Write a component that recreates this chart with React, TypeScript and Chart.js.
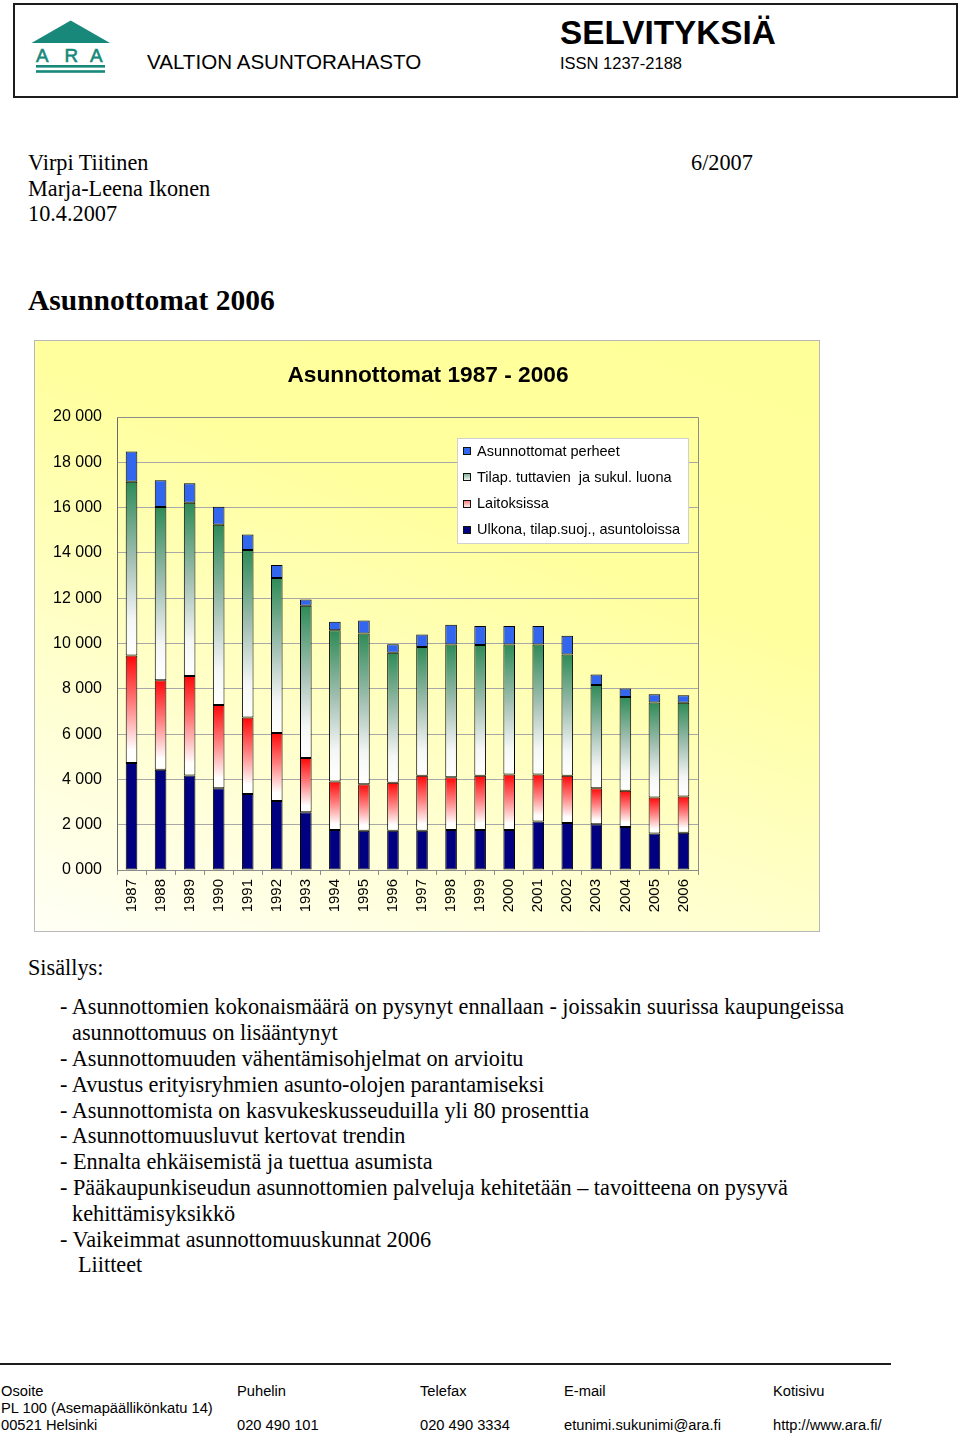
import React, { useEffect, useRef } from "react";
import { Chart, registerables } from "chart.js";

Chart.register(...registerables);

// ---------- DATA ----------
const years = ["1987", "1988", "1989", "1990", "1991", "1992", "1993", "1994", "1995", "1996", "1997", "1998", "1999", "2000", "2001", "2002", "2003", "2004", "2005", "2006"];
const ulkona = [4720, 4430, 4170, 3610, 3360, 3050, 2550, 1770, 1730, 1730, 1730, 1770, 1770, 1770, 2140, 2070, 2020, 1900, 1610, 1650];
const laitoksissa = [4750, 3950, 4400, 3680, 3370, 3000, 2390, 2140, 2060, 2120, 2430, 2330, 2390, 2450, 2080, 2090, 1590, 1600, 1590, 1600];
const tilap = [7670, 7650, 7640, 7950, 7400, 6840, 6730, 6670, 6650, 5740, 5680, 5860, 5770, 5740, 5740, 5350, 4560, 4140, 4200, 4130];
const perheet = [1340, 1180, 870, 800, 680, 580, 270, 380, 580, 380, 560, 870, 840, 810, 810, 830, 460, 370, 360, 330];
const seriesLabels = ["Ulkona, tilap.suoj., asuntoloissa", "Laitoksissa", "Tilap. tuttavien  ja sukul. luona", "Asunnottomat perheet"];
const yTickValues = [0, 2000, 4000, 6000, 8000, 10000, 12000, 14000, 16000, 18000, 20000];
const yTickLabels = ["0 000", "2 000", "4 000", "6 000", "8 000", "10 000", "12 000", "14 000", "16 000", "18 000", "20 000"];
const chartTitle = "Asunnottomat 1987 - 2006";

const SANS = '"Liberation Sans", Arial, Helvetica, sans-serif';
const SERIF = '"Liberation Serif", "Times New Roman", Times, serif';

type Kind = "navy" | "red" | "green" | "blue";
const kinds: Kind[] = ["navy", "red", "green", "blue"];
const seriesData = [ulkona, laitoksissa, tilap, perheet];

function applyStops(g: CanvasGradient, kind: Kind) {
  if (kind === "red") {
    g.addColorStop(0, "#ff0808");
    g.addColorStop(0.45, "#ff8080");
    g.addColorStop(0.88, "#ffffff");
    g.addColorStop(1, "#ffffff");
  } else if (kind === "green") {
    g.addColorStop(0, "#2e8b57");
    g.addColorStop(0.45, "#a3c0b3");
    g.addColorStop(0.8, "#f5f7f7");
    g.addColorStop(1, "#ffffff");
  }
}

function solid(kind: Kind) {
  if (kind === "navy") return "#000080";
  if (kind === "blue") return "#3366ee";
  if (kind === "red") return "#ff6060";
  return "#7fb59a";
}

function segFill(kind: Kind) {
  return (ctx: any) => {
    if (kind === "navy" || kind === "blue") return solid(kind);
    const chart = ctx.chart;
    if (!chart.chartArea || ctx.type !== "data") return solid(kind);
    const ys = chart.scales.y;
    const i = ctx.dataIndex;
    const d = ctx.datasetIndex;
    let base = 0;
    for (let k = 0; k < d; k++) base += seriesData[k][i];
    const top = ys.getPixelForValue(base + seriesData[d][i]);
    const bot = ys.getPixelForValue(base);
    const g = chart.ctx.createLinearGradient(0, top, 0, bot);
    applyStops(g, kind);
    return g;
  };
}

const frameAndLegend = {
  id: "frameAndLegend",
  afterDraw(chart: any) {
    const c: CanvasRenderingContext2D = chart.ctx;
    const a = chart.chartArea;
    c.save();
    // chart title, centred on the whole chart box
    c.fillStyle = "#000";
    c.font = `bold 22.7px ${SANS}`;
    c.textAlign = "center";
    c.textBaseline = "middle";
    c.fillText(chartTitle, chart.width / 2 + 1, 35);

    // plot frame (top/right)
    c.strokeStyle = "#8c8c8c";
    c.lineWidth = 1;
    c.beginPath();
    c.moveTo(a.left, a.top + 0.5);
    c.lineTo(a.right + 0.5, a.top + 0.5);
    c.lineTo(a.right + 0.5, a.bottom);
    c.stroke();

    // legend box
    const bx = a.right - 241;
    const by = a.top + 21;
    const bw = 232;
    const bh = 106;
    c.fillStyle = "#ffffff";
    c.fillRect(bx, by, bw, bh);
    c.strokeStyle = "#d0d0d0";
    c.strokeRect(bx + 0.5, by + 0.5, bw - 1, bh - 1);
    c.font = `14.5px ${SANS}`;
    c.textBaseline = "middle";
    c.textAlign = "left";
    const order = [3, 2, 1, 0];
    order.forEach((d, row) => {
      const cy = by + 13 + row * 26.3;
      const sx = bx + 6;
      const sy = Math.round(cy - 4);
      const kind = kinds[d];
      if (kind === "red" || kind === "green") {
        const g = c.createLinearGradient(0, sy, 0, sy + 8);
        if (kind === "red") {
          g.addColorStop(0, "#ff7070");
          g.addColorStop(1, "#ffffff");
        } else {
          g.addColorStop(0, "#6fa88a");
          g.addColorStop(1, "#ffffff");
        }
        c.fillStyle = g;
      } else {
        c.fillStyle = solid(kind);
      }
      c.fillRect(sx, sy, 8, 8);
      c.strokeStyle = "#111";
      c.strokeRect(sx + 0.5, sy + 0.5, 7, 7);
      c.fillStyle = "#000";
      c.fillText(seriesLabels[d], bx + 20, cy + 0.5);
    });
    c.restore();
  },
};

function BarChart() {
  const ref = useRef<HTMLCanvasElement | null>(null);
  useEffect(() => {
    if (!ref.current) return;
    const chart = new Chart(ref.current, {
      type: "bar",
      data: {
        labels: years,
        datasets: seriesData.map((arr, d) => ({
          label: seriesLabels[d],
          data: arr,
          backgroundColor: segFill(kinds[d]) as any,
          borderColor: "#000000",
          borderWidth: 1,
          borderSkipped: false,
          categoryPercentage: 1,
          barPercentage: 0.4,
        })),
      },
      options: {
        responsive: false,
        animation: false,
        devicePixelRatio: 1,
        layout: { padding: { left: 0, right: 121, top: 76, bottom: 0 } },
        font: { family: SANS },
        plugins: {
          legend: { display: false },
          tooltip: { enabled: false },
          title: { display: false },
        },
        scales: {
          x: {
            stacked: true,
            grid: { display: true, drawOnChartArea: false, drawTicks: true, tickLength: 5, color: "#8c8c8c", offset: true },
            border: { display: true, color: "#8c8c8c" },
            ticks: {
              color: "#000",
              font: { family: SANS, size: 15 },
              maxRotation: 90,
              minRotation: 90,
              padding: 4,
              autoSkip: false,
            },
            afterFit: (s: any) => {
              s.height = 61;
            },
          },
          y: {
            stacked: true,
            min: 0,
            max: 20000,
            grid: { color: "#a8a8a8", drawTicks: false },
            border: { display: true, color: "#6a6a6a" },
            ticks: {
              color: "#000",
              font: { family: SANS, size: 16 },
              padding: 15,
              callback: (v: any) => {
                const idx = yTickValues.indexOf(Number(v));
                return idx >= 0 ? yTickLabels[idx] : "";
              },
            },
            afterBuildTicks: (s: any) => {
              s.ticks = yTickValues.map((v) => ({ value: v }));
            },
            afterFit: (s: any) => {
              s.width = 82;
            },
          },
        },
      },
      plugins: [frameAndLegend],
    } as any);
    return () => chart.destroy();
  }, []);
  return <canvas ref={ref} width={784} height={590} style={{ position: "absolute", left: 0, top: 0, width: 784, height: 590 }} />;
}

function T(props: { x: number; y: number; size: number; serif?: boolean; bold?: boolean; color?: string; children: React.ReactNode }) {
  const f = props.serif ? 0.8375 : 0.8465;
  return (
    <div
      style={{
        position: "absolute",
        left: props.x,
        top: props.y - f * props.size,
        fontSize: props.size,
        lineHeight: `${props.size}px`,
        fontFamily: props.serif ? SERIF : SANS,
        fontWeight: props.bold ? "bold" : "normal",
        whiteSpace: "pre",
        color: props.color || "#000",
      }}
    >
      {props.children}
    </div>
  );
}

const listLines: [number, string][] = [
  [60, "- Asunnottomien kokonaismäärä on pysynyt ennallaan - joissakin suurissa kaupungeissa"],
  [72, "asunnottomuus on lisääntynyt"],
  [60, "- Asunnottomuuden vähentämisohjelmat on arvioitu"],
  [60, "- Avustus erityisryhmien asunto-olojen parantamiseksi"],
  [60, "- Asunnottomista on kasvukeskusseuduilla yli 80 prosenttia"],
  [60, "- Asunnottomuusluvut kertovat trendin"],
  [60, "- Ennalta ehkäisemistä ja tuettua asumista"],
  [60, "- Pääkaupunkiseudun asunnottomien palveluja kehitetään \u2013 tavoitteena on pysyvä"],
  [72, "kehittämisyksikkö"],
  [60, "- Vaikeimmat asunnottomuuskunnat 2006"],
  [78, "Liitteet"],
];

export default function App() {
  const teal = "#17887a";
  const BODY = 22.25;
  return (
    <div style={{ position: "absolute", left: 0, top: 0, width: 960, height: 1435, background: "#fff", overflow: "hidden" }}>
      {/* header box */}
      <div style={{ position: "absolute", left: 13, top: 3, width: 945, height: 95, border: "2px solid #1c1c1c", boxSizing: "border-box" }} />
      <svg width={120} height={90} style={{ position: "absolute", left: 0, top: 0 }}>
        <polygon points="31.5,43 70.7,20.5 110,43" fill={teal} />
        <g fill={teal} stroke={teal} strokeWidth={0.6} fontFamily={SANS} fontSize={18.8}>
          <text x={36} y={61.5}>A</text>
          <text x={64.5} y={61.5}>R</text>
          <text x={90} y={61.5}>A</text>
        </g>
        <rect x={36} y={65} width={69} height={2.6} fill={teal} />
        <rect x={36} y={70.2} width={69} height={2.6} fill={teal} />
      </svg>
      <T x={147} y={69} size={20.6}>VALTION ASUNTORAHASTO</T>
      <T x={560} y={44} size={33.3} bold>SELVITYKSIÄ</T>
      <T x={560} y={69} size={16.5}>ISSN 1237-2188</T>

      {/* authors */}
      <T x={28} y={171} size={BODY} serif>Virpi Tiitinen</T>
      <T x={28} y={197} size={BODY} serif>Marja-Leena Ikonen</T>
      <T x={28} y={222} size={BODY} serif>10.4.2007</T>
      <T x={691} y={171} size={BODY} serif>6/2007</T>

      <T x={28} y={311} size={29.5} serif bold>Asunnottomat 2006</T>

      {/* chart box */}
      <div
        style={{
          position: "absolute",
          left: 34,
          top: 340,
          width: 786,
          height: 592,
          boxSizing: "border-box",
          border: "1px solid #b8b8b8",
          background: "linear-gradient(200deg, #ffff99 0%, #ffff9e 35%, #ffffcf 70%, #fffff6 100%)",
        }}
      >
        <BarChart />
      </div>

      <T x={28} y={976} size={BODY} serif>Sisällys:</T>
      {listLines.map(([x, s], i) => (
        <T key={i} x={x} y={1015 + i * 25.8} size={BODY} serif>
          {s}
        </T>
      ))}

      {/* footer */}
      <div style={{ position: "absolute", left: 0, top: 1363, width: 891, height: 2, background: "#1c1c1c" }} />
      <T x={1} y={1396} size={14.7}>Osoite</T>
      <T x={1} y={1413} size={14.7}>PL 100 (Asemapäällikönkatu 14)</T>
      <T x={1} y={1430} size={14.7}>00521 Helsinki</T>
      <T x={237} y={1396} size={14.7}>Puhelin</T>
      <T x={237} y={1430} size={14.7}>020 490 101</T>
      <T x={420} y={1396} size={14.7}>Telefax</T>
      <T x={420} y={1430} size={14.7}>020 490 3334</T>
      <T x={564} y={1396} size={14.7}>E-mail</T>
      <T x={564} y={1430} size={14.7}>etunimi.sukunimi@ara.fi</T>
      <T x={773} y={1396} size={14.7}>Kotisivu</T>
      <T x={773} y={1430} size={14.7}>http://www.ara.fi/</T>
    </div>
  );
}
